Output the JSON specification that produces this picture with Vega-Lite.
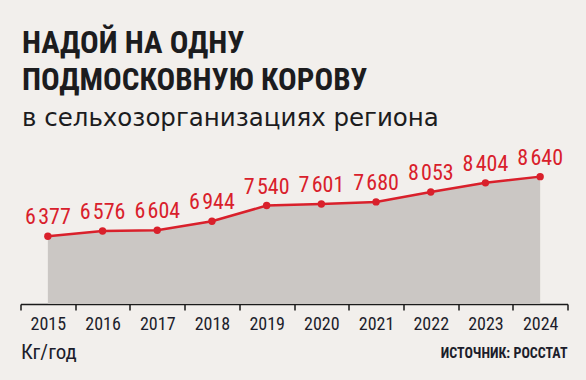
{
  "$schema": "https://vega.github.io/schema/vega-lite/v6.json",
  "autosize": "none",
  "width": 547,
  "height": 150,
  "padding": {"left": 20.5, "top": 154, "right": 18.5, "bottom": 76},
  "background": "#f2efec",
  "config": {
    "view": {"stroke": null},
    "locale": {"number": {"decimal": ",", "thousands": "\u200a", "grouping": [3], "currency": ["", ""]}}
  },
  "title": {
    "text": ["НАДОЙ НА ОДНУ", "ПОДМОСКОВНУЮ КОРОВУ"],
    "subtitle": "в сельхозорганизациях региона",
    "anchor": "start",
    "frame": "group",
    "font": "Roboto Condensed, Roboto, sans-serif",
    "fontSize": 31,
    "fontWeight": "bold",
    "lineHeight": 37,
    "color": "#1c1c1e",
    "subtitleFont": "DejaVu Sans",
    "subtitleFontSize": 24.5,
    "subtitleFontWeight": "normal",
    "subtitleColor": "#1c1c1e",
    "subtitlePadding": 10,
    "offset": 15,
    "dx": 1.5
  },
  "data": {
    "values": [
      {"year": "2015", "value": 6377},
      {"year": "2016", "value": 6576},
      {"year": "2017", "value": 6604},
      {"year": "2018", "value": 6944},
      {"year": "2019", "value": 7540},
      {"year": "2020", "value": 7601},
      {"year": "2021", "value": 7680},
      {"year": "2022", "value": 8053},
      {"year": "2023", "value": 8404},
      {"year": "2024", "value": 8640}
    ]
  },
  "encoding": {
    "x": {
      "field": "year",
      "type": "ordinal",
      "scale": {"type": "band", "paddingInner": 0, "paddingOuter": 0},
      "axis": {
        "title": "Кг/год",
        "titleAnchor": "start",
        "titleAlign": "left",
        "titleFont": "Roboto Condensed, Roboto, sans-serif",
        "titleFontSize": 21,
        "titleFontWeight": "normal",
        "titleColor": "#1c1d2b",
        "titlePadding": 8,
        "labelFont": "Roboto Condensed, Roboto, sans-serif",
        "labelFontSize": 18,
        "labelColor": "#1c1d2b",
        "labelAngle": 0,
        "labelPadding": 5,
        "tickBand": "extent",
        "tickSize": 6,
        "tickColor": "#1a1a1a",
        "tickWidth": 1.5,
        "domainColor": "#1a1a1a",
        "domainWidth": 1.5,
        "grid": false
      }
    },
    "y": {
      "field": "value",
      "type": "quantitative",
      "scale": {"domain": [3800, 9500], "zero": false, "nice": false},
      "axis": null
    }
  },
  "layer": [
    {
      "mark": {"type": "area", "color": "#cbc7c4"},
      "encoding": {"y2": {"datum": 3800}}
    },
    {
      "mark": {"type": "line", "color": "#d9202b", "strokeWidth": 2.5}
    },
    {
      "mark": {"type": "point", "filled": true, "color": "#d9202b", "size": 55, "opacity": 1}
    },
    {
      "mark": {
        "type": "text",
        "color": "#d9202b",
        "font": "Roboto Condensed, Roboto, sans-serif",
        "fontSize": 22,
        "fontWeight": "normal",
        "baseline": "alphabetic",
        "align": "center",
        "dy": -12
      },
      "encoding": {"text": {"field": "value", "type": "quantitative", "format": ",d"}}
    },
    {
      "data": {"values": [{"source": "ИСТОЧНИК: РОССТАТ", "year": "2024", "pos": 1760}]},
      "mark": {
        "type": "text",
        "color": "#1c1d2b",
        "font": "Roboto Condensed, Roboto, sans-serif",
        "fontSize": 14,
        "fontWeight": "bold",
        "baseline": "alphabetic",
        "align": "right"
      },
      "encoding": {
        "x": {"field": "year", "type": "ordinal", "bandPosition": 1},
        "y": {"field": "pos", "type": "quantitative"},
        "text": {"field": "source"}
      }
    }
  ]
}
